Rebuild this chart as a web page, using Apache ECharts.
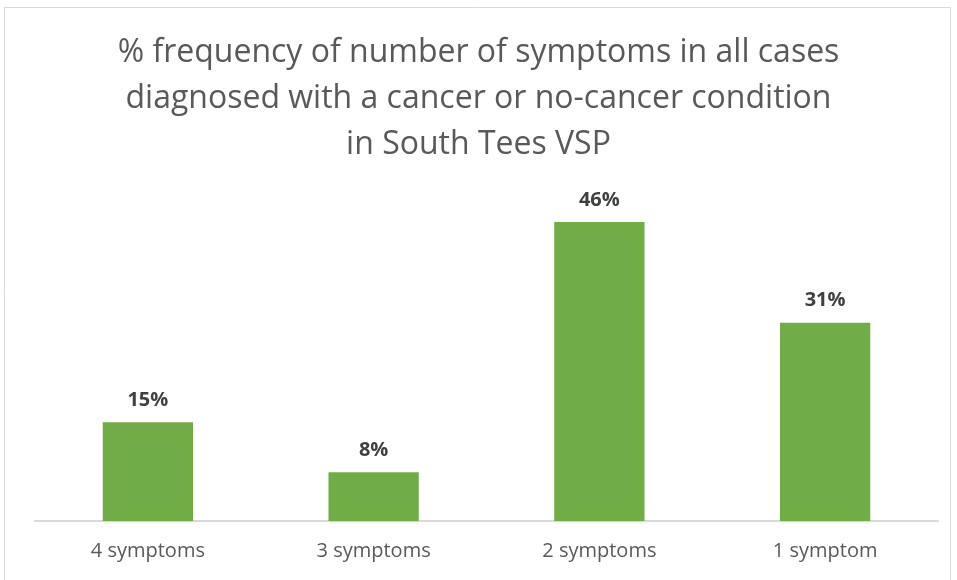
<!DOCTYPE html>
<html><head><meta charset="utf-8">
<script src="https://cdn.jsdelivr.net/npm/echarts@6/dist/echarts.min.js"></script>
<style>html,body{margin:0;padding:0;background:#fff}#c{width:957px;height:580px}</style>
</head><body><div id="c"></div>
<script>
const titleText = '% frequency of number of symptoms in all cases\ndiagnosed with a cancer or no-cancer condition\nin South Tees VSP';
const categories = ['4 symptoms', '3 symptoms', '2 symptoms', '1 symptom'];
const values = [15.2, 7.5, 46.0, 30.5];

const chart = echarts.init(document.getElementById('c'));
chart.setOption({
  animation: false,
  backgroundColor: '#fff',
  graphic: [{
    type: 'rect', shape: {x: 4.5, y: 7.5, width: 946, height: 600},
    style: {fill: 'none', stroke: '#d9d9d9', lineWidth: 1}, silent: true
  }],
  title: {
    text: titleText, left: 'center', top: 25,
    textStyle: {fontFamily: 'Open Sans', fontWeight: 'normal', fontSize: 32, color: '#595959', lineHeight: 46}
  },
  grid: {left: 35, right: 19, top: 196, bottom: 59},
  xAxis: {
    type: 'category', data: categories,
    axisLine: {lineStyle: {color: '#d9d9d9', width: 2}},
    axisTick: {show: false},
    axisLabel: {color: '#595959', fontSize: 20, fontFamily: 'Open Sans', margin: 20}
  },
  yAxis: {type: 'value', min: 0, max: 50, show: false, splitLine: {show: false}},
  series: [{
    type: 'bar', data: values, barWidth: '40%',
    itemStyle: {color: '#70ad47'},
    label: {
      show: true, position: 'top', distance: 12,
      formatter: p => Math.round(p.value) + '%',
      fontSize: 20, fontWeight: 'bold', color: '#404040', fontFamily: 'Open Sans'
    }
  }]
});
</script></body></html>
